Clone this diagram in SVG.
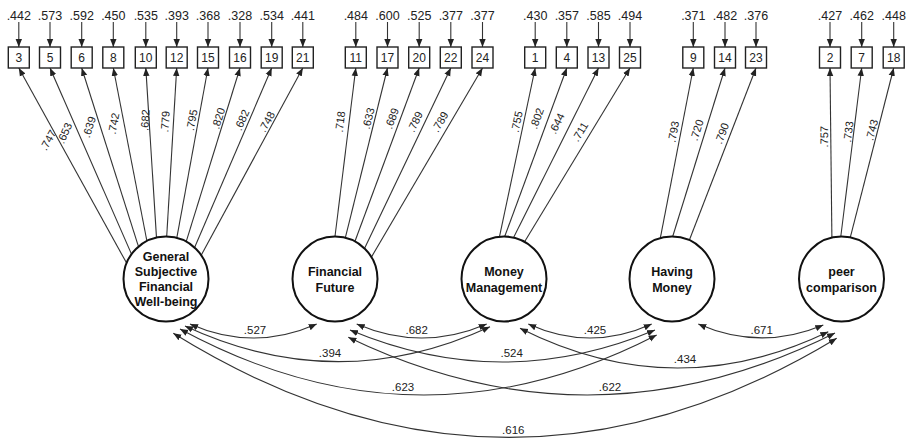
<svg xmlns="http://www.w3.org/2000/svg" width="908" height="439" viewBox="0 0 908 439">
<defs>
<marker id="ah" viewBox="0 0 10 10" refX="10" refY="5" markerWidth="8" markerHeight="8" markerUnits="userSpaceOnUse" orient="auto-start-reverse">
<path d="M0,1 L10,5 L0,9 z" fill="#222"/>
</marker>
<style>
.ln{fill:none;stroke:#333;stroke-width:1.1}
.ar{marker-end:url(#ah)}
.cv{fill:none;stroke:#333;stroke-width:1.1;marker-start:url(#ah);marker-end:url(#ah)}
.box{fill:#fff;stroke:#222;stroke-width:1.4}
.lat{fill:#fff;stroke:#111;stroke-width:2}
.bt{font-family:"Liberation Sans",Arial,sans-serif;font-size:12px;fill:#222;text-anchor:middle}
.lt{font-family:"Liberation Sans",Arial,sans-serif;font-size:12.5px;font-weight:bold;fill:#111;text-anchor:middle}
.et{font-family:"Liberation Sans",Arial,sans-serif;font-size:12.5px;fill:#222;text-anchor:middle}
.ld{font-family:"Liberation Sans",Arial,sans-serif;font-size:11px;fill:#222;text-anchor:middle;dominant-baseline:central}
.cl{font-family:"Liberation Sans",Arial,sans-serif;font-size:11.5px;fill:#222;text-anchor:middle}
</style>
</defs>
<rect width="908" height="439" fill="#fff"/>

<g id="connectors">
<!-- error arrows -->
<g class="ln ar">
<path d="M18.8,22 L18.8,47"/><path d="M50,22 L50,47"/><path d="M81.7,22 L81.7,47"/><path d="M113.3,22 L113.3,47"/><path d="M145.8,22 L145.8,47"/><path d="M176.7,22 L176.7,47"/><path d="M208,22 L208,47"/><path d="M240,22 L240,47"/><path d="M271.7,22 L271.7,47"/><path d="M302.8,22 L302.8,47"/>
<path d="M355.8,22 L355.8,47"/><path d="M387.5,22 L387.5,47"/><path d="M419.2,22 L419.2,47"/><path d="M450.8,22 L450.8,47"/><path d="M482.5,22 L482.5,47"/>
<path d="M535.2,22 L535.2,47"/><path d="M566.8,22 L566.8,47"/><path d="M598.5,22 L598.5,47"/><path d="M630,22 L630,47"/>
<path d="M693.3,22 L693.3,47"/><path d="M725,22 L725,47"/><path d="M756,22 L756,47"/>
<path d="M830,22 L830,47"/><path d="M861.7,22 L861.7,47"/><path d="M893.7,22 L893.7,47"/>
</g>
<!-- loadings -->
<g class="ln ar">
<path d="M126.6,263.1 L18.8,68"/><path d="M131.5,254.1 L50,68"/><path d="M138.5,246.6 L81.7,68"/><path d="M146.9,241 L113.3,68"/><path d="M156.5,237.6 L145.8,68"/><path d="M166.7,236.5 L176.7,68"/><path d="M176.8,237.9 L208,68"/><path d="M186.2,241.6 L240,68"/><path d="M194.6,247.5 L271.7,68"/><path d="M201.2,255.2 L302.8,68"/>
<path d="M335,236.5 L355.8,68"/><path d="M345.3,237.8 L387.5,68"/><path d="M354.9,241.5 L419.2,68"/><path d="M364.5,248.4 L450.8,68"/><path d="M371.4,257.1 L482.5,68"/>
<path d="M499.5,236.7 L535.2,68"/><path d="M504.7,236.5 L566.8,68"/><path d="M513.6,237.6 L598.5,68"/><path d="M524.6,241.8 L630,68"/>
<path d="M660.3,238.2 L693.3,68"/><path d="M672.7,236.5 L725,68"/><path d="M689.3,240.2 L756,68"/>
<path d="M831.9,237.6 L830,68"/><path d="M840.8,236.5 L861.7,68"/><path d="M850.3,237.4 L893.7,68"/>
</g>
<!-- covariances -->
<path class="cv" d="M190,324 Q253.3,352 316.7,324"/>
<path class="cv" d="M356.7,324 Q421.7,352 486.7,324"/>
<path class="cv" d="M185,326 Q337.5,397 490,326.7"/>
<path class="cv" d="M350,330 Q502.5,394 655,330"/>
<path class="cv" d="M528.3,324 Q590,352 651.7,324"/>
<path class="cv" d="M698.3,324 Q760.8,351.3 823.3,325"/>
<path class="cv" d="M520,328.3 Q674,406 828.3,331.7"/>
<path class="cv" d="M180,329 Q418,458 656.7,335"/>
<path class="cv" d="M348.3,337.3 Q591.7,454.8 835,333"/>
<path class="cv" d="M173.3,333.3 Q505,539 836.7,338.3"/>
</g>

<g id="loading-labels">
<text class="ld" transform="translate(48,140) rotate(-61)">.747</text>
<text class="ld" transform="translate(64.5,133) rotate(-66.3)">.653</text>
<text class="ld" transform="translate(89,127) rotate(-72.3)">.639</text>
<text class="ld" transform="translate(113.5,123.5) rotate(-79)">.742</text>
<text class="ld" transform="translate(145,120) rotate(-86.4)">.682</text>
<text class="ld" transform="translate(165,121.7) rotate(-86.6)">.779</text>
<text class="ld" transform="translate(191.7,120) rotate(-79.6)">.795</text>
<text class="ld" transform="translate(218.3,118.3) rotate(-72.8)">.820</text>
<text class="ld" transform="translate(241.7,120) rotate(-66.7)">.682</text>
<text class="ld" transform="translate(266.7,121.7) rotate(-61.5)">.748</text>
<text class="ld" transform="translate(340,121.7) rotate(-83)">.718</text>
<text class="ld" transform="translate(368.3,118.3) rotate(-76)">.633</text>
<text class="ld" transform="translate(391.7,118.3) rotate(-69.6)">.689</text>
<text class="ld" transform="translate(415,121.7) rotate(-64.4)">.789</text>
<text class="ld" transform="translate(440,121.7) rotate(-59.5)">.789</text>
<text class="ld" transform="translate(516.7,121.7) rotate(-78)">.755</text>
<text class="ld" transform="translate(536.7,118.3) rotate(-69.7)">.802</text>
<text class="ld" transform="translate(556.7,123.3) rotate(-63.4)">.644</text>
<text class="ld" transform="translate(580,131.7) rotate(-58.7)">.711</text>
<text class="ld" transform="translate(673.3,131.7) rotate(-79)">.793</text>
<text class="ld" transform="translate(696.7,130) rotate(-72.7)">.720</text>
<text class="ld" transform="translate(721.7,133.3) rotate(-68.8)">.790</text>
<text class="ld" transform="translate(824,136.7) rotate(-89.4)">.757</text>
<text class="ld" transform="translate(848.3,131.7) rotate(-82.9)">.733</text>
<text class="ld" transform="translate(871.7,130) rotate(-75.6)">.743</text>
</g>

<g id="covariance-labels">
<text class="cl" x="255" y="334">.527</text>
<text class="cl" x="416.7" y="334">.682</text>
<text class="cl" x="330" y="357">.394</text>
<text class="cl" x="511.7" y="357">.524</text>
<text class="cl" x="595" y="334">.425</text>
<text class="cl" x="761.7" y="334">.671</text>
<text class="cl" x="685" y="362.5">.434</text>
<text class="cl" x="403" y="391">.623</text>
<text class="cl" x="610" y="391">.622</text>
<text class="cl" x="513.3" y="434">.616</text>
</g>

<g id="error-labels">
<text class="et" x="18.8" y="19.5">.442</text><text class="et" x="50" y="19.5">.573</text><text class="et" x="81.7" y="19.5">.592</text><text class="et" x="113.3" y="19.5">.450</text><text class="et" x="145.8" y="19.5">.535</text><text class="et" x="176.7" y="19.5">.393</text><text class="et" x="208" y="19.5">.368</text><text class="et" x="240" y="19.5">.328</text><text class="et" x="271.7" y="19.5">.534</text><text class="et" x="302.8" y="19.5">.441</text>
<text class="et" x="355.8" y="19.5">.484</text><text class="et" x="387.5" y="19.5">.600</text><text class="et" x="419.2" y="19.5">.525</text><text class="et" x="450.8" y="19.5">.377</text><text class="et" x="482.5" y="19.5">.377</text>
<text class="et" x="535.2" y="19.5">.430</text><text class="et" x="566.8" y="19.5">.357</text><text class="et" x="598.5" y="19.5">.585</text><text class="et" x="630" y="19.5">.494</text>
<text class="et" x="693.3" y="19.5">.371</text><text class="et" x="725" y="19.5">.482</text><text class="et" x="756" y="19.5">.376</text>
<text class="et" x="830" y="19.5">.427</text><text class="et" x="861.7" y="19.5">.462</text><text class="et" x="893.7" y="19.5">.448</text>
</g>

<g id="item-3"><rect class="box" x="8.3" y="47" width="21" height="21"/><text class="bt" x="18.8" y="61.8">3</text></g>
<g id="item-5"><rect class="box" x="39.5" y="47" width="21" height="21"/><text class="bt" x="50" y="61.8">5</text></g>
<g id="item-6"><rect class="box" x="71.2" y="47" width="21" height="21"/><text class="bt" x="81.7" y="61.8">6</text></g>
<g id="item-8"><rect class="box" x="102.8" y="47" width="21" height="21"/><text class="bt" x="113.3" y="61.8">8</text></g>
<g id="item-10"><rect class="box" x="135.3" y="47" width="21" height="21"/><text class="bt" x="145.8" y="61.8">10</text></g>
<g id="item-12"><rect class="box" x="166.2" y="47" width="21" height="21"/><text class="bt" x="176.7" y="61.8">12</text></g>
<g id="item-15"><rect class="box" x="197.5" y="47" width="21" height="21"/><text class="bt" x="208" y="61.8">15</text></g>
<g id="item-16"><rect class="box" x="229.5" y="47" width="21" height="21"/><text class="bt" x="240" y="61.8">16</text></g>
<g id="item-19"><rect class="box" x="261.2" y="47" width="21" height="21"/><text class="bt" x="271.7" y="61.8">19</text></g>
<g id="item-21"><rect class="box" x="292.3" y="47" width="21" height="21"/><text class="bt" x="302.8" y="61.8">21</text></g>
<g id="item-11"><rect class="box" x="345.3" y="47" width="21" height="21"/><text class="bt" x="355.8" y="61.8">11</text></g>
<g id="item-17"><rect class="box" x="377" y="47" width="21" height="21"/><text class="bt" x="387.5" y="61.8">17</text></g>
<g id="item-20"><rect class="box" x="408.7" y="47" width="21" height="21"/><text class="bt" x="419.2" y="61.8">20</text></g>
<g id="item-22"><rect class="box" x="440.3" y="47" width="21" height="21"/><text class="bt" x="450.8" y="61.8">22</text></g>
<g id="item-24"><rect class="box" x="472" y="47" width="21" height="21"/><text class="bt" x="482.5" y="61.8">24</text></g>
<g id="item-1"><rect class="box" x="524.7" y="47" width="21" height="21"/><text class="bt" x="535.2" y="61.8">1</text></g>
<g id="item-4"><rect class="box" x="556.3" y="47" width="21" height="21"/><text class="bt" x="566.8" y="61.8">4</text></g>
<g id="item-13"><rect class="box" x="588" y="47" width="21" height="21"/><text class="bt" x="598.5" y="61.8">13</text></g>
<g id="item-25"><rect class="box" x="619.5" y="47" width="21" height="21"/><text class="bt" x="630" y="61.8">25</text></g>
<g id="item-9"><rect class="box" x="682.8" y="47" width="21" height="21"/><text class="bt" x="693.3" y="61.8">9</text></g>
<g id="item-14"><rect class="box" x="714.5" y="47" width="21" height="21"/><text class="bt" x="725" y="61.8">14</text></g>
<g id="item-23"><rect class="box" x="745.5" y="47" width="21" height="21"/><text class="bt" x="756" y="61.8">23</text></g>
<g id="item-2"><rect class="box" x="819.5" y="47" width="21" height="21"/><text class="bt" x="830" y="61.8">2</text></g>
<g id="item-7"><rect class="box" x="851.2" y="47" width="21" height="21"/><text class="bt" x="861.7" y="61.8">7</text></g>
<g id="item-18"><rect class="box" x="883.2" y="47" width="21" height="21"/><text class="bt" x="893.7" y="61.8">18</text></g>

<g id="gsfwb"><circle class="lat" cx="166" cy="279" r="42.5"/>
<text class="lt" x="166" y="261">General</text><text class="lt" x="166" y="276">Subjective</text><text class="lt" x="166" y="291">Financial</text><text class="lt" x="166" y="306">Well-being</text></g>
<g id="financial-future"><circle class="lat" cx="335" cy="279" r="42.5"/>
<text class="lt" x="335" y="276">Financial</text><text class="lt" x="335" y="291.5">Future</text></g>
<g id="money-management"><circle class="lat" cx="504" cy="279" r="42.5"/>
<text class="lt" x="504" y="276">Money</text><text class="lt" x="504" y="291.5">Management</text></g>
<g id="having-money"><circle class="lat" cx="672" cy="279" r="42.5"/>
<text class="lt" x="672" y="276">Having</text><text class="lt" x="672" y="291.5">Money</text></g>
<g id="peer-comparison"><circle class="lat" cx="841.5" cy="279" r="42.5"/>
<text class="lt" x="841.5" y="276">peer</text><text class="lt" x="841.5" y="291.5">comparison</text></g>
</svg>
